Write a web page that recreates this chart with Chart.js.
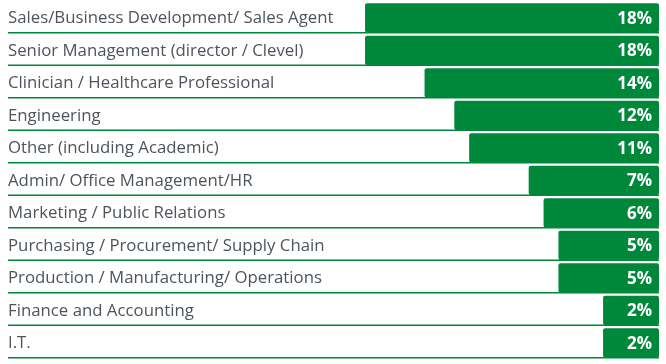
<!DOCTYPE html>
<html>
<head>
<meta charset="utf-8">
<script src="https://cdn.jsdelivr.net/npm/chart.js@4"></script>
<style>
  html, body { margin: 0; padding: 0; background: #fff; }
  #wrap { width: 666px; height: 364px; position: relative; }
</style>
</head>
<body>
<div id="wrap"><canvas id="chart"></canvas></div>
<script>
const categories = [
    'Sales/Business Development/ Sales Agent',
    'Senior Management (director / Clevel)',
    'Clinician / Healthcare Professional',
    'Engineering',
    'Other (including Academic)',
    'Admin/ Office Management/HR',
    'Marketing / Public Relations',
    'Purchasing / Procurement/ Supply Chain',
    'Production / Manufacturing/ Operations',
    'Finance and Accounting',
    'I.T.'
];
const shares = [18, 18, 14, 12, 11, 7, 6, 5, 5, 2, 2];

const GREEN = '#00883a';
const BAR_BASE = -1.76;

// row labels on the left, value labels inside bar end, green rule under each row
const rowDecor = {
    id: 'rowDecor',
    afterDatasetsDraw(chart) {
        const { ctx, chartArea } = chart;
        const meta = chart.getDatasetMeta(0);
        ctx.save();
        meta.data.forEach((bar, i) => {
            const bottom = bar.y + bar.height / 2;
            ctx.strokeStyle = GREEN;
            ctx.lineWidth = 1.4;
            ctx.beginPath();
            ctx.moveTo(8, bottom + 0.3);
            ctx.lineTo(bar.base, bottom + 0.3);
            ctx.stroke();

            ctx.fillStyle = '#4d545c';
            ctx.font = '16.8px "Open Sans", sans-serif';
            ctx.textAlign = 'left';
            ctx.textBaseline = 'middle';
            ctx.fillText(categories[i], 8, bar.y + 0.5);

            ctx.fillStyle = '#fff';
            ctx.font = 'bold 17px "Open Sans", sans-serif';
            ctx.textAlign = 'right';
            ctx.fillText(shares[i] + '%', chartArea.right - 7, bar.y + 1);
        });
        ctx.restore();
    }
};

new Chart(document.getElementById('chart'), {
    type: 'bar',
    data: {
        labels: categories,
        datasets: [{
            data: shares,
            base: BAR_BASE,
            backgroundColor: GREEN,
            borderRadius: 2,
            borderSkipped: false,
            barPercentage: 0.9,
            categoryPercentage: 1
        }]
    },
    options: {
        indexAxis: 'y',
        responsive: true,
        maintainAspectRatio: false,
        animation: false,
        layout: { padding: { left: 8, right: 7, top: 1.5, bottom: 5 } },
        plugins: { legend: { display: false }, tooltip: { enabled: false } },
        scales: {
            x: { display: false, reverse: true, min: BAR_BASE, max: 42 },
            y: { display: false }
        }
    },
    plugins: [rowDecor]
});
</script>
</body>
</html>
